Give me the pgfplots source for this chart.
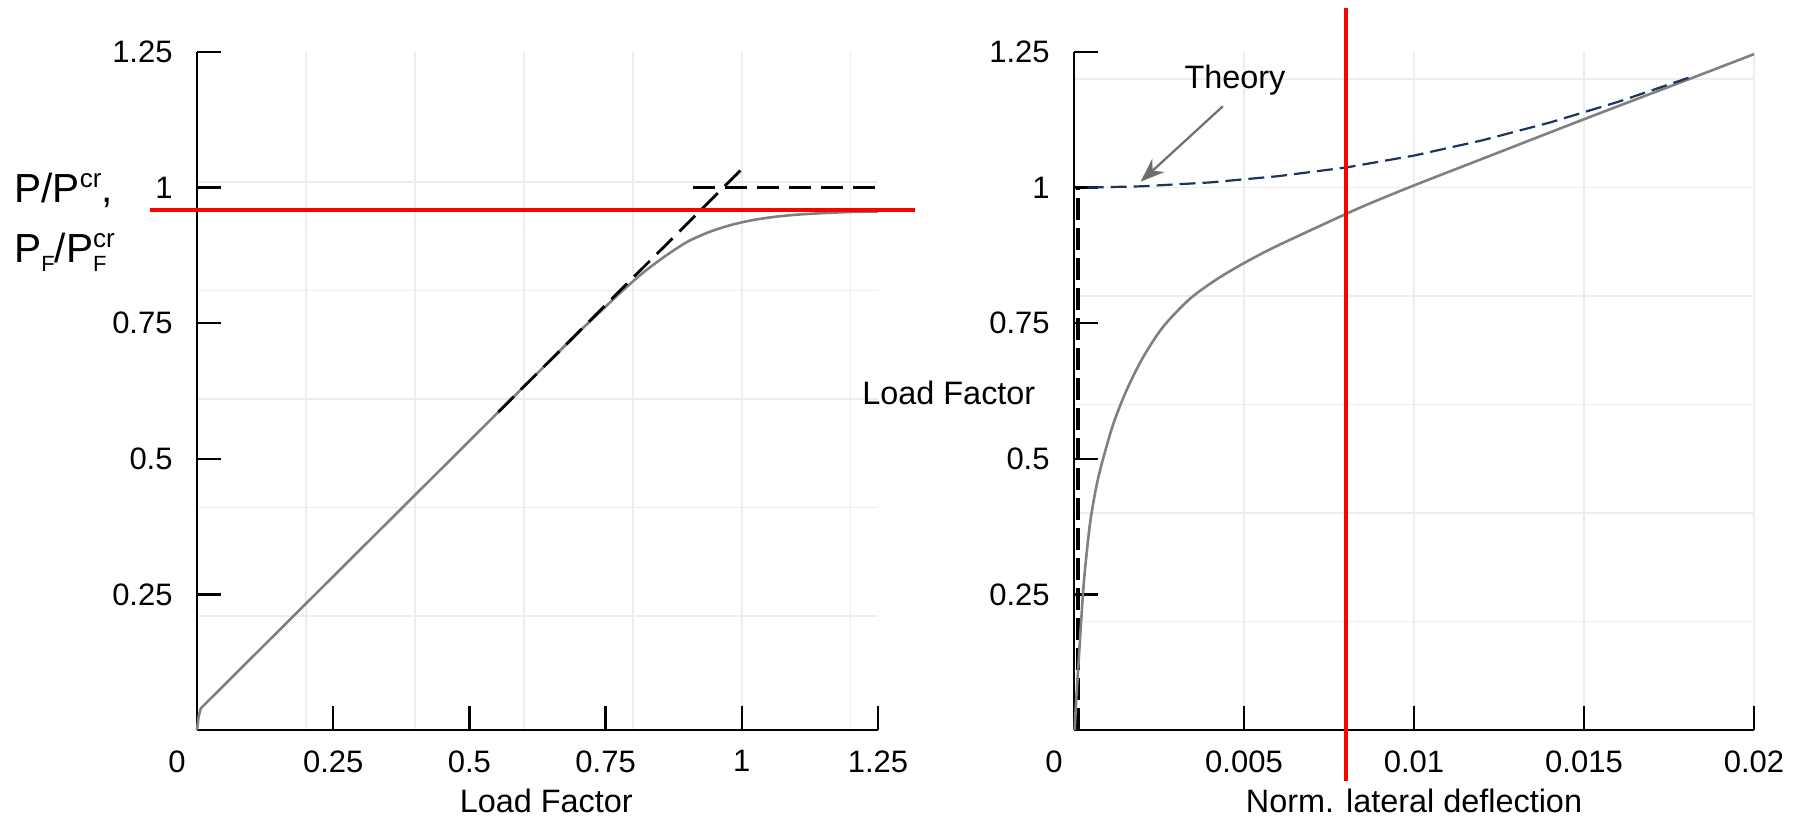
\documentclass[border=0pt]{standalone}
\usepackage{fontspec}
\setmainfont{Liberation Sans}
\usepackage{pgfplots}
\pgfplotsset{compat=1.18}
\usetikzlibrary{arrows.meta}

\definecolor{curvegray}{HTML}{808080}
\definecolor{theorynavy}{HTML}{1B3560}
\definecolor{arrowgray}{HTML}{6E6E6E}

\pgfplotsset{
  buckle/.style={
    scale only axis, height=339pt,
    axis lines=left, axis line style={-, line width=1.3pt},
    tick align=inside, major tick length=12pt,
    tick style={black, line width=1.2pt},
    enlargelimits=false, clip=false,
    ymin=0, ymax=1.25,
    ytick={0.25,0.5,0.75,1,1.25}, yticklabels={0.25,0.5,0.75,1,1.25},
    ticklabel style={font=\fontsize{15.5}{15.5}\selectfont, inner sep=0pt},
    xticklabel style={anchor=north, yshift=-10pt},
    yticklabel style={anchor=east, xshift=-12pt},
    extra x ticks={0}, extra x tick labels={0},
    extra x tick style={major tick length=0pt, grid=none,
      xticklabel style={xshift=-10pt}},
    minor tick length=0pt,
    minor grid style={black!7, line width=0.7pt},
    major grid style={black!7, line width=0.7pt},
  }
}

\newcommand{\lab}{\fontsize{16.2}{19}\selectfont}
\newcommand{\crsup}{\raisebox{7.8pt}{\fontsize{13}{13}\selectfont cr}}
\newcommand{\fsub}{\raisebox{-4.2pt}{\fontsize{11}{11}\selectfont F}}

\begin{document}
\begin{tikzpicture}
\useasboundingbox (-98.5pt,-43.5pt) rectangle (801.5pt,365pt);

% left: load vs load factor
\begin{axis}[buckle, at={(0pt,0pt)}, anchor=south west, width=340.5pt,
  xmin=0, xmax=1.25,
  xtick={0.25,0.5,0.75,1,1.25}, xticklabels={0.25,0.5,0.75,1,1.25},
  minor xtick={0.2,0.4,0.6,0.8,1.0,1.2},
  minor ytick={0.21,0.41,0.61,0.81,1.01},
  xminorgrids=true, yminorgrids=true]
\addplot[curvegray, line width=1.3pt] coordinates {
  (0,0) (0.003,0.025) (0.007,0.040) (0.02,0.053) (0.70,0.733)};
\addplot[curvegray, line width=1.3pt, smooth] coordinates {
  (0.66,0.693) (0.70,0.733) (0.74,0.771) (0.78,0.809) (0.82,0.844)
  (0.86,0.874) (0.90,0.900) (0.94,0.918) (0.98,0.931) (1.02,0.940)
  (1.06,0.946) (1.10,0.950) (1.15,0.953) (1.20,0.955) (1.25,0.956)};
\addplot[black, line width=1.4pt, dash pattern=on 11pt off 5pt] coordinates {(0.553,0.586) (1.0,1.034)};
\addplot[black, line width=1.4pt, dash pattern=on 11pt off 5pt] coordinates {(0.911,1.0) (1.25,1.0)};
\addplot[red, line width=2pt] coordinates {(-0.086,0.958) (1.317,0.958)};
\node[anchor=base west, inner sep=0pt, font=\fontsize{20.3}{24}\selectfont]
  at (axis cs:-0.336,0.9716) {P/P\crsup,};
\node[anchor=base west, inner sep=0pt, font=\fontsize{20.3}{24}\selectfont]
  at (axis cs:-0.336,0.861) {P\fsub/P\rlap{\fsub}\crsup};
\node[anchor=base, inner sep=0pt, font=\lab] at (axis cs:0.641,-0.153) {Load Factor};
\end{axis}

% right: load vs lateral deflection
\begin{axis}[buckle, at={(438.5pt,0pt)}, anchor=south west, width=340pt,
  xmin=0, xmax=0.02, scaled x ticks=false,
  xtick={0.005,0.01,0.015,0.02}, xticklabels={0.005,0.01,0.015,0.02},
  xmajorgrids=true,
  minor ytick={0.2,0.4,0.6,0.8,1.0,1.2}, yminorgrids=true]
\addplot[black, line width=2pt, dash pattern=on 11pt off 4pt] coordinates {(0.00012,0) (0.00012,1)};
\addplot[curvegray, line width=1.3pt, smooth] coordinates {
  (0.00002,0) (0.00006,0.05) (0.00013,0.12) (0.00021,0.20) (0.0003,0.28)
  (0.00047,0.38) (0.00066,0.45) (0.00086,0.501) (0.00116,0.565)
  (0.00155,0.627) (0.00204,0.688) (0.00263,0.744) (0.00341,0.795)
  (0.0042,0.831) (0.00495,0.859) (0.00576,0.886) (0.00674,0.915)
  (0.00795,0.950) (0.00871,0.971) (0.01,1.004) (0.01213,1.056)
  (0.015,1.126) (0.01809,1.200) (0.02,1.246)};
\addplot[theorynavy, line width=1.1pt, dash pattern=on 8pt off 3.5pt] coordinates {
  (0.0004,1) (0.002,1.0024) (0.004,1.0095) (0.006,1.021) (0.008,1.037)
  (0.01,1.059) (0.012,1.087) (0.014,1.120) (0.016,1.158) (0.0181,1.203)};
\draw[arrowgray, line width=1.1pt, -{Stealth[length=12pt,width=9pt]}]
  (axis cs:0.00438,1.150) -- (axis cs:0.00196,1.011);
\addplot[red, line width=2pt] coordinates {(0.008,-0.094) (0.008,1.332)};
\node[anchor=base, inner sep=0pt, font=\lab] at (axis cs:0.004735,1.183) {Theory};
\node[anchor=base west, inner sep=0pt, font=\lab] at (axis cs:-0.006235,0.601) {Load Factor};
\node[anchor=base, inner sep=0pt, font=\lab] at (axis cs:0.01,-0.153) {Norm. lateral deflection};
\end{axis}
\end{tikzpicture}
\end{document}
